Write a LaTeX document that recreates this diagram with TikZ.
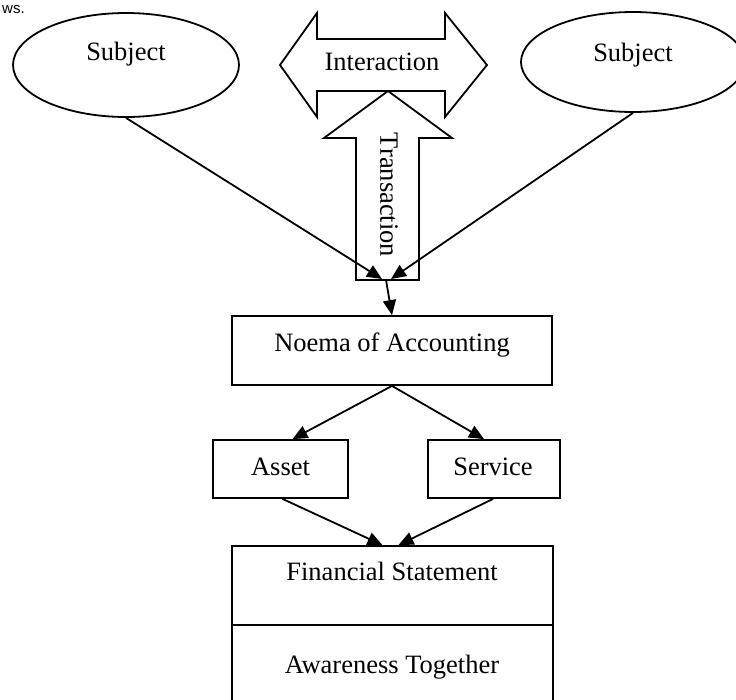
\documentclass[tikz,border=0pt]{standalone}
\usepackage{fontspec}
\setmainfont{Liberation Serif}
\newfontfamily\sansf{Liberation Sans}
\usetikzlibrary{shapes.geometric,arrows.meta,calc}
\begin{document}
\begin{tikzpicture}[x=1pt,y=-1pt,
  every node/.style={font=\fontsize{26.5}{31}\selectfont},
  shp/.style={draw,line width=1.8pt,line join=miter,fill=white},
  bx/.style={draw,line width=1.8pt,rectangle,inner sep=0pt},
  oval/.style={draw,line width=1.8pt,ellipse,inner sep=0pt},
  con/.style={line width=1.8pt,-{Triangle[length=15pt,width=13pt]}},
  lbl/.style={anchor=base,inner sep=0pt}]
\useasboundingbox (0,0) rectangle (736,699);
\node[inner sep=0pt,anchor=base west,font=\sansf\fontsize{15}{18}\selectfont] (ws) at (2,13) {ws.};
% subjects
\node[oval,minimum width=226pt,minimum height=104pt] (subL) at (126,65) {};
\node[lbl] (subLt) at (126,60) {Subject};
\node[oval,minimum width=224pt,minimum height=100pt] (subR) at (633,62) {};
\node[lbl] (subRt) at (633,61) {Subject};
% interaction double arrow
\draw[shp] (280,65) -- (317,13) -- (317,39) -- (445,39) -- (445,13) -- (487,65)
  -- (445,117) -- (445,91) -- (317,91) -- (317,117) -- cycle;
\node[lbl] (inter) at (382,70) {Interaction};
% transaction up arrow
\draw[shp] (388,91) -- (452,138) -- (419,138) -- (419,280) -- (356,280)
  -- (356,138) -- (324,138) -- cycle;
\node[rotate=-90,inner sep=0pt] (trans) at (389,195) {Transaction};
\coordinate (tipL) at (382,279);
\coordinate (tipR) at (391,279);
\coordinate (trB) at (386,280);
\draw[con] (subL.south) -- (tipL);
\draw[con] (subR.south) -- (tipR);
% noema
\node[bx,minimum width=320pt,minimum height=69pt] (noema) at (392,350.5) {};
\node[lbl] (noemat) at (392,351) {Noema of Accounting};
\draw[con] (trB) -- (noema.north);
% asset, service
\node[bx,minimum width=135pt,minimum height=58pt] (asset) at (280.5,469) {};
\node[lbl] (assett) at (280.5,475) {Asset};
\node[bx,minimum width=132pt,minimum height=58pt] (service) at (494,469) {};
\node[lbl] (servicet) at (493,475) {Service};
\draw[con] (noema.south) -- ($(asset.north)+(12,0)$);
\draw[con] (noema.south) -- ($(service.north)+(-10,0)$);
% financial statement
\node[bx,minimum width=321pt,minimum height=79pt] (fs) at (392.5,585.5) {};
\node[lbl] (fst) at (392,580) {Financial Statement};
\node[bx,minimum width=321pt,minimum height=95pt] (aw) at (392.5,672.5) {};
\node[lbl] (awt) at (392,673) {Awareness Together};
\draw[con] ($(asset.south)+(2,0)$) -- ($(fs.north)+(-10,0)$);
\draw[con] ($(service.south)+(-1,0)$) -- ($(fs.north)+(6,0)$);
\end{tikzpicture}
\end{document}
